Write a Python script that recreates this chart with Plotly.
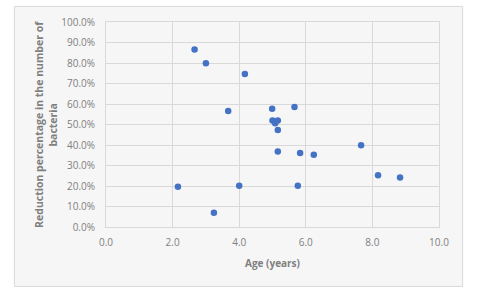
import plotly.graph_objects as go

# Data
age_years = [2.66, 3.00, 4.17, 3.67, 4.99, 5.66, 5.00, 5.16, 5.08, 5.16,
             5.16, 5.83, 6.24, 7.66, 5.76, 2.16, 4.00, 3.24, 8.17, 8.83]
reduction = [0.866, 0.799, 0.746, 0.566, 0.577, 0.585, 0.519, 0.520, 0.506, 0.473,
             0.368, 0.361, 0.353, 0.399, 0.201, 0.196, 0.201, 0.070, 0.253, 0.241]

x_ticks = [0, 2, 4, 6, 8, 10]
y_ticks = [i / 10 for i in range(11)]

x_title = "Age (years)"
y_title = "Reduction percentage in the number of<br>bacteria"

grey_text = "#7f7f7f"
grid = "#d9d9d9"
font_family = "Open Sans, Liberation Sans, sans-serif"

fig = go.Figure(go.Scatter(
    x=age_years, y=reduction, mode="markers",
    marker=dict(color="#4472C4", size=6.5, line=dict(width=0)),
    hoverinfo="x+y",
))

fig.update_layout(
    template="none",
    width=480, height=296,
    margin=dict(l=106, r=41, t=22, b=69, autoexpand=False),
    paper_bgcolor="white",
    plot_bgcolor="white",
    showlegend=False,
    font=dict(family=font_family, size=10, color=grey_text),
    shapes=[dict(
        type="rect", xref="paper", yref="paper", layer="below",
        x0=-0.275, x1=1.071, y0=-0.290, y1=1.076,
        fillcolor="#f6f6f6", line=dict(color="#d9d9d9", width=1),
    )],
    annotations=[
        dict(text=f"<b>{x_title}</b>", xref="paper", yref="paper",
             x=0.5, y=-0.175, showarrow=False, xanchor="center", yanchor="middle",
             font=dict(size=10, color=grey_text)),
        dict(text=f"<b>{y_title}</b>", xref="paper", yref="paper",
             x=-0.182, y=0.5, showarrow=False, xanchor="center", yanchor="middle",
             textangle=-90, font=dict(size=10.5, color=grey_text)),
    ],
)

fig.update_xaxes(
    range=[0, 10], tickvals=x_ticks, tickformat=".1f",
    showgrid=True, gridcolor=grid, gridwidth=1,
    showline=True, linecolor=grid, mirror=True,
    zeroline=False, ticks="", ticklabelstandoff=6,
    automargin=False, fixedrange=True,
)
fig.update_yaxes(
    range=[0, 1], tickvals=y_ticks, tickformat=".1%",
    showgrid=True, gridcolor=grid, gridwidth=1,
    showline=True, linecolor=grid, mirror=True,
    zeroline=False, ticks="", ticklabelstandoff=8,
    automargin=False, fixedrange=True,
)

fig.write_html("out.html", config={"displayModeBar": False},
               post_script="document.body.style.margin='0';")
